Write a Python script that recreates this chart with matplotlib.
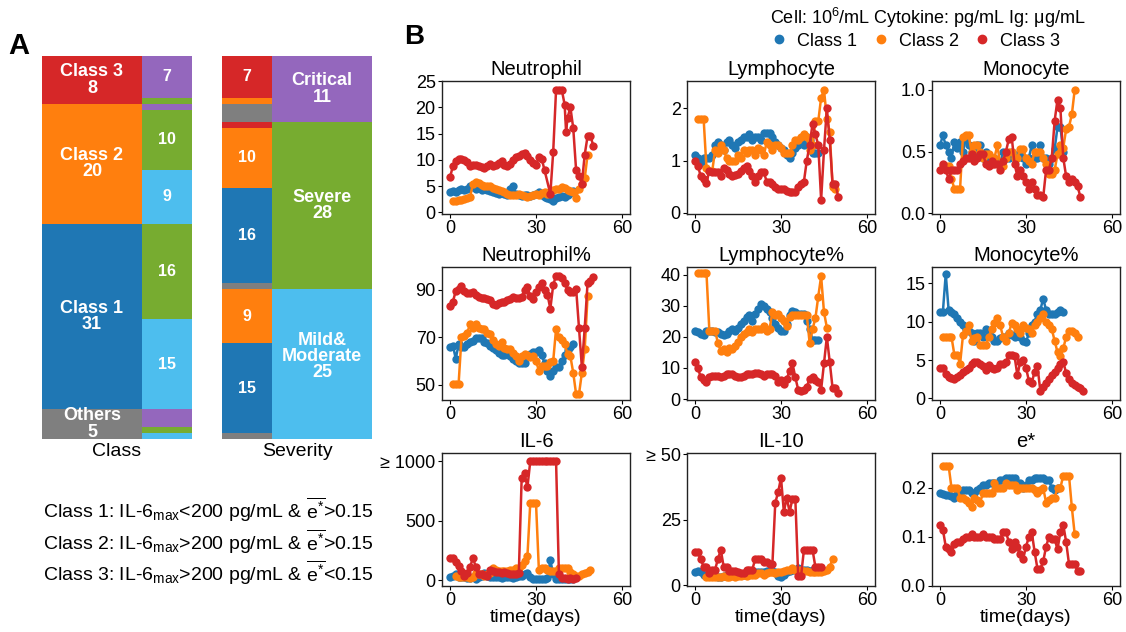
import numpy as np
import matplotlib.pyplot as plt
from matplotlib.lines import Line2D

plt.rcParams['font.family'] = ['Liberation Sans', 'DejaVu Sans']
plt.rcParams['mathtext.fontset'] = 'custom'
plt.rcParams['mathtext.rm'] = 'Liberation Sans'
plt.rcParams['mathtext.it'] = 'Liberation Sans:italic'

# ---- panel A: patients per class / severity ----
class_names = ['Class 3', 'Class 2', 'Class 1', 'Others']
severity_names = ['Critical', 'Severe', 'Mild&\nModerate']
# rows: class, columns: severity
counts = [[7, 1, 0],
          [1, 10, 9],
          [0, 16, 15],
          [3, 1, 1]]

class_colors = ['#d62728', '#ff7f0e', '#1f77b4', '#7f7f7f']
sev_colors = ['#9467bd', '#77ac30', '#4dbeee']
c1, c2, c3 = '#1f77b4', '#ff7f0e', '#d62728'

# ---- panel B: time courses ----
neu_c1_t = list(range(0, 44))
neu_c1_y = [3.8, 4.0, 3.8, 4.3, 4.5, 4.2, 4.5, 5.0, 4.8, 4.5, 4.6, 4.3, 4.4, 4.2, 4.0,
            3.8, 3.7, 3.5, 3.6, 3.5, 3.4, 4.5, 5.0, 3.5, 3.3, 3.2, 3.3, 3.4, 3.2, 3.4,
            3.5, 3.8, 3.3, 3.0, 2.8, 2.5, 2.2, 2.8, 3.0, 3.2, 3.0, 3.4, 3.6, 4.0]
neu_c2_t = list(range(1, 49))
neu_c2_y = [2.2, 2.2, 2.3, 2.4, 2.6, 2.8, 2.9, 5.5, 5.7, 5.6, 5.2, 5.0, 5.1, 5.0, 4.7,
            4.5, 4.2, 4.0, 3.8, 3.5, 3.3, 3.4, 3.3, 3.5, 3.4, 3.2, 3.0, 3.2, 3.3, 3.5,
            3.4, 3.6, 3.8, 3.5, 3.8, 4.2, 4.5, 4.5, 4.8, 4.6, 4.3, 4.0, 3.8, 2.8, 4.5,
            5.5, 6.5, 11.0]
neu_c3_t = list(range(0, 34)) + [35, 36, 37, 38, 39, 40, 40.5, 41, 42, 43, 44, 45, 46,
                                 47, 48, 49, 50]
neu_c3_y = [6.7, 8.8, 9.8, 10.2, 10.2, 10.0, 9.6, 8.8, 9.0, 9.0, 8.8, 8.6, 8.5, 8.8, 9.2,
            8.8, 9.0, 9.4, 9.8, 9.0, 8.8, 9.2, 10.0, 10.5, 10.8, 11.2, 11.3, 10.8, 10.0,
            9.4, 9.0, 10.5, 10.2, 8.0, 3.5, 11.5, 23.3, 23.3, 23.3, 20.5, 15.3, 18.0,
            20.0, 16.0, 8.0, 7.0, 5.5, 11.0, 14.5, 14.5, 12.7]

lym_c1_t = list(range(0, 44))
lym_c1_y = [1.1, 1.05, 0.95, 1.05, 1.05, 1.05, 1.1, 1.3, 1.35, 1.3, 1.2, 1.35, 1.4, 1.3,
            1.25, 1.35, 1.4, 1.45, 1.45, 1.5, 1.4, 1.45, 1.45, 1.4, 1.52, 1.52, 1.52,
            1.45, 1.35, 1.3, 1.25, 1.2, 1.1, 1.05, 1.15, 1.25, 1.3, 1.35, 1.3, 1.45,
            1.4, 1.15, 1.15, 1.15]
lym_c2_t = list(range(1, 50))
lym_c2_y = [1.8, 1.8, 1.8, 0.85, 0.8, 0.8, 1.2, 1.15, 1.3, 1.2, 1.05, 1.0, 1.0, 1.0, 1.1,
            1.05, 1.2, 1.15, 1.2, 1.2, 1.1, 1.25, 1.2, 1.1, 1.35, 1.3, 1.2, 1.3, 1.3,
            1.25, 1.15, 1.15, 1.15, 1.3, 1.4, 1.4, 1.45, 1.5, 1.45, 1.2, 1.3, 1.75,
            1.75, 2.2, 2.35, 1.8, 1.55, 0.5, 0.45]
lym_c3_t = list(range(0, 51))
lym_c3_y = [1.0, 0.9, 0.7, 0.65, 0.58, 0.8, 0.78, 0.78, 0.78, 0.7, 0.85, 0.82, 0.75, 0.7,
            0.72, 0.75, 0.8, 0.85, 0.9, 0.8, 0.7, 0.6, 0.7, 0.78, 0.78, 0.6, 0.6, 0.55,
            0.5, 0.45, 0.45, 0.45, 0.42, 0.4, 0.4, 0.4, 0.5, 0.55, 0.6, 1.0, 1.3, 1.7,
            1.5, 1.3, 0.25, 1.2, 2.0, 1.4, 0.55, 0.55, 0.3]

mon_c1_t = list(range(0, 44))
mon_c1_y = [0.55, 0.63, 0.55, 0.5, 0.45, 0.58, 0.53, 0.58, 0.5, 0.6, 0.55, 0.5, 0.5, 0.55,
            0.55, 0.45, 0.5, 0.42, 0.42, 0.45, 0.42, 0.4, 0.5, 0.45, 0.45, 0.5, 0.45,
            0.45, 0.5, 0.45, 0.4, 0.45, 0.55, 0.45, 0.45, 0.55, 0.45, 0.45, 0.4, 0.45,
            0.52, 0.7, 0.7, 0.5]
mon_c2_t = list(range(1, 48))
mon_c2_y = [0.38, 0.38, 0.38, 0.28, 0.2, 0.2, 0.2, 0.62, 0.63, 0.63, 0.5, 0.55, 0.55, 0.5,
            0.45, 0.48, 0.48, 0.4, 0.45, 0.55, 0.4, 0.38, 0.45, 0.5, 0.5, 0.45, 0.45,
            0.52, 0.52, 0.45, 0.42, 0.4, 0.5, 0.5, 0.5, 0.45, 0.4, 0.32, 0.32, 0.35,
            0.48, 0.55, 0.53, 0.68, 0.7, 0.8, 1.0]
mon_c3_t = list(range(0, 50))
mon_c3_y = [0.35, 0.4, 0.35, 0.28, 0.35, 0.35, 0.35, 0.4, 0.42, 0.45, 0.45, 0.48, 0.42,
            0.45, 0.48, 0.48, 0.4, 0.38, 0.42, 0.4, 0.4, 0.35, 0.42, 0.5, 0.6, 0.62, 0.4,
            0.3, 0.35, 0.3, 0.25, 0.2, 0.25, 0.2, 0.15, 0.15, 0.13, 0.35, 0.35, 0.45,
            0.75, 0.92, 0.85, 0.45, 0.3, 0.25, 0.28, 0.25, 0.22, 0.13]

neup_c1_t = list(range(0, 44))
neup_c1_y = [66, 66.5, 61, 67, 66, 66, 67, 68, 68.5, 69.5, 69.5, 69.5, 68, 67.5, 66.5,
             65.5, 64.5, 63.5, 62.5, 62.5, 63.5, 62, 61, 60, 59, 59, 59, 62, 63, 64, 64,
             64.5, 62.5, 59, 56, 53.5, 56, 57.5, 57.5, 60, 62.5, 64.5, 66, 67]
neup_c2_t = list(range(1, 49))
neup_c2_y = [50.5, 50.5, 50.5, 70, 70.5, 72, 75.5, 74, 75.5, 74, 73.5, 73.5, 72, 71.5, 69,
             67, 66.5, 68, 65.5, 65, 65, 63.5, 62, 60, 62, 63, 62.5, 61.5, 62, 60, 56, 58,
             58, 58, 59.5, 60, 73.5, 70, 69, 67, 63, 62, 55, 46, 46, 55, 65, 87.5]
neup_c3_t = list(range(0, 51))
neup_c3_y = [83, 85, 89.5, 90.5, 91.5, 89.5, 88.5, 88.5, 89, 88, 87, 86.5, 86.5, 86, 85.5,
             84, 83.5, 84.5, 85, 85, 85.5, 86, 87, 86.5, 86.5, 87, 90, 91, 87.5, 86, 89,
             91, 93, 90, 88, 82, 92, 96, 96, 95, 93, 90, 89, 89, 90.5, 74, 57.5, 74, 93,
             93.5, 95.5]

lymp_c1_t = list(range(0, 44))
lymp_c1_y = [22, 21.5, 21, 20.5, 22, 22, 22, 21.5, 21.5, 21, 20.5, 21, 22, 22.5, 22, 23,
             24, 25, 26.5, 27, 25, 27.5, 29, 30.5, 30, 29, 28, 26, 24, 23, 22, 22, 24, 27,
             28.5, 28, 27.5, 27.5, 27.5, 25, 22.5, 19, 19, 19]
lymp_c2_t = list(range(1, 47))
lymp_c2_y = [40.5, 40.5, 40.5, 40.5, 22, 22, 22, 18, 15.5, 16, 15, 16.5, 16, 17, 18.5, 20,
             21, 21.5, 22.5, 21.5, 22.5, 22.5, 22.5, 23.5, 22, 22.5, 28, 27, 27.5, 26, 25,
             23.5, 26.5, 27, 27, 27, 27, 27, 27, 18, 22.5, 26, 33, 39.5, 28, 23]
lymp_c3_t = list(range(0, 51))
lymp_c3_y = [12, 10, 7, 6, 5.5, 7, 7.5, 7.5, 7.5, 7, 7.5, 8, 8, 8, 7.5, 7, 7, 7.5, 8, 8, 8,
             8.5, 8.5, 8, 7.5, 8, 8, 8, 7.5, 5.5, 6, 5, 6.5, 9, 11.5, 7, 3, 2.5, 3, 4, 6.5,
             7, 6, 5.5, 3, 11.5, 20, 12, 3.5, 3.5, 2]

monp_c1_t = list(range(0, 44))
monp_c1_y = [11.3, 11.3, 16.2, 11.5, 11.3, 11, 10.5, 10, 9.5, 9, 8.8, 8.5, 7.5, 8.5, 8.5,
             8, 9, 8.5, 8, 7.5, 7.5, 7.8, 8, 8, 8.5, 8.2, 8, 8.5, 8, 7.5, 7.3, 8.5, 9.5,
             10, 11, 11.5, 13, 11.5, 11, 11, 11, 11.2, 11.5, 11.3]
monp_c2_t = list(range(1, 49))
monp_c2_y = [8, 8, 8, 8, 5.7, 5.7, 4.5, 8.2, 8.8, 9.5, 7.5, 7.8, 8, 7, 7, 7, 8, 9, 9.8,
             10.5, 9.5, 8, 7.5, 8.5, 9.8, 9.5, 9, 8.5, 9.5, 9.2, 9, 8.5, 9.5, 10, 10.5, 11,
             10, 9.5, 9, 7.5, 6, 5.5, 6.5, 8, 8.8, 8.8, 8.5, 8]
monp_c3_t = list(range(0, 51))
monp_c3_y = [4, 4, 3.2, 2.8, 2.7, 2.5, 2.8, 3, 3.5, 3.7, 4, 4.5, 4.7, 4.8, 4.5, 4.2, 3.7,
             4.3, 4, 3.8, 4, 4.5, 4.5, 4.7, 5.7, 5.6, 5.5, 3, 4.8, 5, 4, 2.3, 2, 3.5, 4.2,
             1, 1.5, 2, 2.5, 3, 3.5, 4, 4.5, 4.8, 3.3, 2.5, 2, 1.7, 1.5, 1.3, 1]

il6_c1_t = list(range(0, 44))
il6_c1_y = [30, 35, 50, 30, 25, 30, 20, 20, 25, 10, 30, 40, 60, 40, 30, 25, 30, 25, 20,
            25, 30, 25, 20, 30, 35, 40, 50, 60, 30, 10, 15, 10, 10, 15, 20, 170, 50, 10,
            10, 15, 10, 10, 15, 10]
il6_c2_t = list(range(2, 50))
il6_c2_y = [40, 30, 30, 30, 30, 20, 30, 60, 50, 50, 40, 50, 60, 100, 90, 80, 80, 75, 80,
            85, 90, 100, 100, 130, 160, 200, 650, 650, 650, 90, 100, 100, 90, 80, 80, 80,
            100, 100, 100, 100, 70, 50, 40, 40, 50, 60, 70, 90]
il6_c3_t = list(range(0, 45))
il6_c3_y = [190, 190, 150, 120, 80, 40, 60, 110, 190, 110, 50, 50, 45, 40, 90, 75, 70, 70,
            65, 70, 60, 50, 55, 50, 60, 860, 900, 780, 1000, 1000, 1000, 1000, 1000, 1000,
            1000, 1000, 1000, 1000, 50, 20, 20, 15, 20, 10, 20]

il10_c1_t = list(range(0, 44))
il10_c1_y = [5, 5.5, 5, 4, 3.5, 4, 4, 3.5, 3, 3, 3.5, 4, 4, 4, 4, 4.5, 4, 4, 5, 5, 5, 5, 5,
             5, 5, 5.5, 5.5, 5.5, 5, 3.5, 3, 4, 5, 5.5, 6, 6, 6.5, 6, 6, 6, 5.5, 6, 6, 6]
il10_c2_t = list(range(4, 49))
il10_c2_y = [3, 3, 3, 3, 3, 3, 3.5, 3, 3, 3.5, 3, 3.5, 3.5, 4, 3.5, 4, 4, 4, 4.5, 4.5, 4,
             4.5, 5, 5, 4.5, 5, 5, 5.5, 6, 6, 6.5, 6, 6, 6, 5.5, 5.5, 5, 5, 5, 5, 5, 5.5, 6,
             7, 10]
il10_c3_t = list(range(0, 45))
il10_c3_y = [12.5, 12.5, 10, 7, 7, 4.5, 6, 6, 10, 13.5, 7, 7, 5.5, 5.5, 5.5, 5, 4.5, 4.5, 6,
             6, 6, 10, 10, 10, 9, 9, 8, 8, 31.5, 35.5, 41, 28, 33.5, 28, 33, 33, 3.5, 3.5,
             13.5, 13.5, 13.5, 13.5, 7, 7, 7]

es_c1_t = list(range(0, 42))
es_c1_y = [0.19, 0.188, 0.185, 0.185, 0.183, 0.18, 0.188, 0.19, 0.195, 0.195, 0.195, 0.19,
           0.19, 0.195, 0.2, 0.205, 0.205, 0.21, 0.21, 0.21, 0.205, 0.215, 0.215, 0.22,
           0.22, 0.22, 0.22, 0.21, 0.21, 0.2, 0.205, 0.215, 0.215, 0.22, 0.22, 0.22, 0.22,
           0.215, 0.215, 0.2, 0.195, 0.2]
es_c2_t = list(range(1, 48))
es_c2_y = [0.245, 0.245, 0.245, 0.2, 0.2, 0.2, 0.18, 0.18, 0.175, 0.17, 0.16, 0.18, 0.175,
           0.17, 0.19, 0.19, 0.19, 0.19, 0.21, 0.2, 0.2, 0.2, 0.21, 0.205, 0.205, 0.205,
           0.195, 0.2, 0.2, 0.2, 0.2, 0.2, 0.195, 0.19, 0.195, 0.2, 0.17, 0.175, 0.18,
           0.18, 0.2, 0.2, 0.225, 0.225, 0.225, 0.16, 0.105]
es_c3_t = list(range(0, 50))
es_c3_y = [0.125, 0.115, 0.08, 0.075, 0.07, 0.085, 0.09, 0.09, 0.095, 0.1, 0.1, 0.105,
           0.1, 0.1, 0.1, 0.105, 0.1, 0.1, 0.1, 0.095, 0.095, 0.095, 0.11, 0.11, 0.09,
           0.075, 0.09, 0.08, 0.065, 0.055, 0.08, 0.1, 0.11, 0.07, 0.035, 0.035, 0.05,
           0.08, 0.1, 0.095, 0.095, 0.075, 0.11, 0.125, 0.09, 0.045, 0.045, 0.045, 0.03,
           0.03]

W, H = 1126, 632
fig = plt.figure(figsize=(W / 100, H / 100), dpi=100)

# ---------------- A ----------------
axA = fig.add_axes([42 / W, 1 - 439 / H, 330 / W, 383 / H])
total = sum(sum(r) for r in counts)
lab = dict(color='white', fontweight='bold', ha='center', va='center', linespacing=0.95)

# class bar: left = class totals, right = severity split
y0 = 0
for i, row in enumerate(counts):
    n = sum(row)
    axA.bar(0.5, n, 1.0, bottom=y0, color=class_colors[i], linewidth=0)
    axA.text(0.5, y0 + n / 2, f'{class_names[i]}\n{n}', fontsize=13, **lab)
    yy = y0
    for j, m in enumerate(row):
        if m:
            axA.bar(1.25, m, 0.5, bottom=yy, color=sev_colors[j], linewidth=0)
            if m >= 5:
                axA.text(1.25, yy + m / 2, str(m), fontsize=11.5, **lab)
        yy += m
    y0 += n

# severity bar: right = severity totals, left = class split
y0 = 0
for j in range(3):
    n = sum(counts[i][j] for i in range(4))
    axA.bar(2.8, n, 1.0, bottom=y0, color=sev_colors[j], linewidth=0)
    dy = -1.3 if j == 2 else 0
    axA.text(2.8, y0 + n / 2 + dy, f'{severity_names[j]}\n{n}', fontsize=13, **lab)
    yy = y0
    for i in range(4):
        m = counts[i][j]
        if m:
            axA.bar(2.05, m, 0.5, bottom=yy, color=class_colors[i], linewidth=0)
            if m >= 5:
                axA.text(2.05, yy + m / 2, str(m), fontsize=11.5, **lab)
        yy += m
    y0 += n

axA.set_xlim(0, 3.3)
axA.set_ylim(total, 0)
for s in axA.spines.values():
    s.set_visible(False)
axA.set_yticks([])
axA.set_xticks([0.75, 2.55])
axA.set_xticklabels(['Class', 'Severity'], fontsize=14)
axA.tick_params(axis='x', length=0, pad=3)

fig.text(19 / W, 1 - 46 / H, 'A', fontsize=21, fontweight='bold', ha='center', va='center')
fig.text(414 / W, 1 - 37 / H, 'B', fontsize=20, fontweight='bold', ha='center', va='center')

crit = [r'Class 1: IL-6$_{\mathrm{max}}$<200 pg/mL & $\overline{\mathrm{e}^{*}}$>0.15',
        r'Class 2: IL-6$_{\mathrm{max}}$>200 pg/mL & $\overline{\mathrm{e}^{*}}$>0.15',
        r'Class 3: IL-6$_{\mathrm{max}}$>200 pg/mL & $\overline{\mathrm{e}^{*}}$<0.15']
for k, (txt, yp) in enumerate(zip(crit, [510, 542, 573])):
    fig.text(43 / W, 1 - yp / H, txt, fontsize=14, ha='left', va='center')

# ---------------- B ----------------
panels = [
    ('Neutrophil', (neu_c1_t, neu_c1_y), (neu_c2_t, neu_c2_y), (neu_c3_t, neu_c3_y),
     (-0.3, 25), [0, 5, 10, 15, 20, 25], None),
    ('Lymphocyte', (lym_c1_t, lym_c1_y), (lym_c2_t, lym_c2_y), (lym_c3_t, lym_c3_y),
     (-0.02, 2.52), [0, 1, 2], None),
    ('Monocyte', (mon_c1_t, mon_c1_y), (mon_c2_t, mon_c2_y), (mon_c3_t, mon_c3_y),
     (-0.005, 1.07), [0.0, 0.5, 1.0], ['0.0', '0.5', '1.0']),
    ('Neutrophil%', (neup_c1_t, neup_c1_y), (neup_c2_t, neup_c2_y), (neup_c3_t, neup_c3_y),
     (43.6, 99.6), [50, 70, 90], None),
    ('Lymphocyte%', (lymp_c1_t, lymp_c1_y), (lymp_c2_t, lymp_c2_y), (lymp_c3_t, lymp_c3_y),
     (-0.3, 42.5), [0, 10, 20, 30, 40], None),
    ('Monocyte%', (monp_c1_t, monp_c1_y), (monp_c2_t, monp_c2_y), (monp_c3_t, monp_c3_y),
     (-0.2, 17.1), [0, 5, 10, 15], None),
    ('IL-6', (il6_c1_t, il6_c1_y), (il6_c2_t, il6_c2_y), (il6_c3_t, il6_c3_y),
     (-48, 1070), [0, 500, 1000], ['0', '500', '≥ 1000']),
    ('IL-10', (il10_c1_t, il10_c1_y), (il10_c2_t, il10_c2_y), (il10_c3_t, il10_c3_y),
     (-0.3, 50.5), [0, 25, 50], ['0', '25', '≥ 50']),
    ('e*', (es_c1_t, es_c1_y), (es_c2_t, es_c2_y), (es_c3_t, es_c3_y),
     (0, 0.271), [0.0, 0.1, 0.2], ['0.0', '0.1', '0.2']),
]

col_left = [442, 687, 932]
row_top = [81, 267, 453]
aw, ah = 188, 133

for k, (title, s1, s2, s3, ylim, yt, ytl) in enumerate(panels):
    r, c = divmod(k, 3)
    ax = fig.add_axes([col_left[c] / W, 1 - (row_top[r] + ah) / H, aw / W, ah / H])
    for (t, y), col in zip([s1, s2, s3], [c1, c2, c3]):
        ax.plot(t, y, '-o', color=col, lw=1.8, ms=6, mec=col, mew=0)
    ax.set_xlim(-2.8, 62.8)
    ax.set_ylim(*ylim)
    ax.set_xticks([0, 30, 60])
    ax.set_yticks(yt)
    if ytl:
        ax.set_yticklabels(ytl)
    ax.set_title(title, fontsize=14.5, pad=4)
    ax.tick_params(direction='out', length=3, width=0.8, labelsize=13, pad=1.5)
    for s in ax.spines.values():
        s.set_linewidth(1.0)
        s.set_color('#222222')
    if r == 2:
        ax.set_xlabel('time(days)', fontsize=14, labelpad=0)

fig.text(770 / W, 1 - 18 / H, 'Cell: 10$^{6}$/mL Cytokine: pg/mL Ig: μg/mL',
         fontsize=13, ha='left', va='center')
handles = [Line2D([], [], ls='', marker='o', color=col, ms=6) for col in (c1, c2, c3)]
fig.legend(handles, ['Class 1', 'Class 2', 'Class 3'], loc='center left',
           bbox_to_anchor=(772 / W, 1 - 41 / H), ncol=3, frameon=False, fontsize=13,
           handlelength=0.8, handletextpad=0.6, columnspacing=0.9, borderpad=0,
           borderaxespad=0)

fig.savefig('out.png', dpi=100)
